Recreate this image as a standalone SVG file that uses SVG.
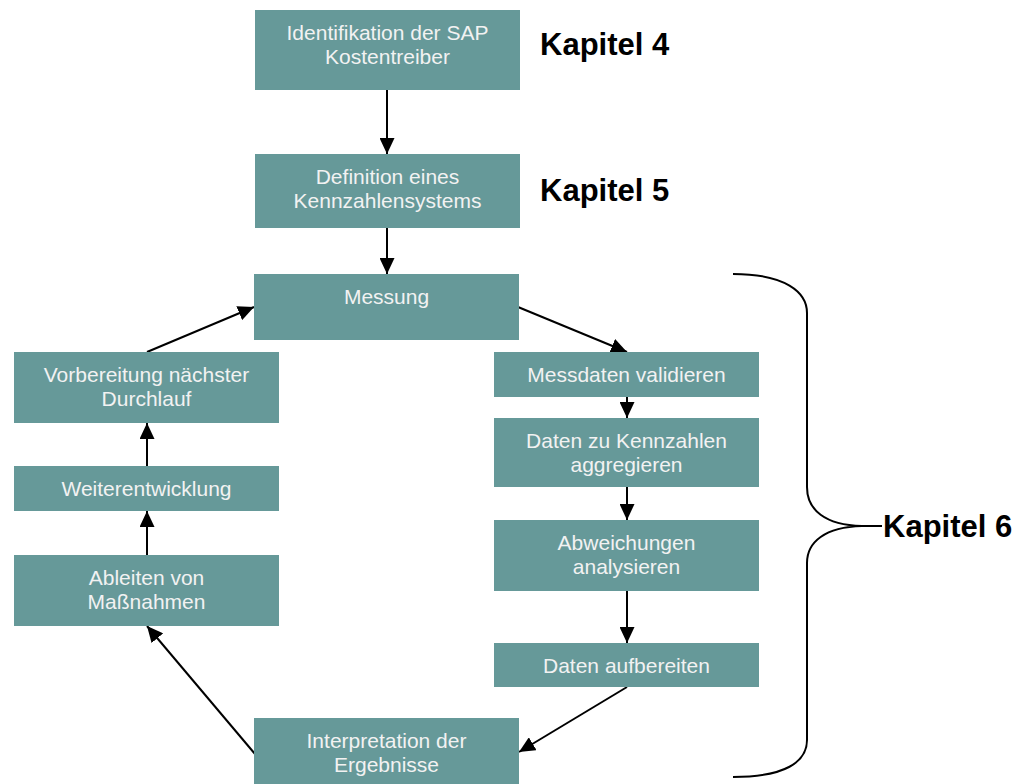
<svg xmlns="http://www.w3.org/2000/svg" width="1023" height="784" viewBox="0 0 1023 784">
<style>
.box{fill:#669999;}
.t{font-family:"Liberation Sans",Arial,sans-serif;font-size:21px;fill:#f2f2f2;text-anchor:middle;}
.k{font-family:"Liberation Sans",Arial,sans-serif;font-size:31px;font-weight:bold;fill:#000;}
.c{stroke:#000;stroke-width:2;fill:none;}
</style>
<defs>
<marker id="ah" markerUnits="userSpaceOnUse" markerWidth="16" markerHeight="15" refX="16" refY="7.5" orient="auto">
<path d="M0,0 L16,7.5 L0,15 z" fill="#000"/>
</marker>
</defs>
<rect width="1023" height="784" fill="#fff"/>
<g id="connectors">
<line class="c" x1="387" y1="90" x2="387" y2="154" marker-end="url(#ah)"/>
<line class="c" x1="387" y1="228" x2="387" y2="274" marker-end="url(#ah)"/>
<line class="c" x1="518" y1="307" x2="627" y2="352" marker-end="url(#ah)"/>
<line class="c" x1="627" y1="397" x2="627" y2="418" marker-end="url(#ah)"/>
<line class="c" x1="627" y1="487" x2="627" y2="520" marker-end="url(#ah)"/>
<line class="c" x1="627" y1="591" x2="627" y2="643" marker-end="url(#ah)"/>
<line class="c" x1="627" y1="687" x2="519" y2="752" marker-end="url(#ah)"/>
<line class="c" x1="255" y1="754" x2="147" y2="626" marker-end="url(#ah)"/>
<line class="c" x1="147" y1="555" x2="147" y2="511" marker-end="url(#ah)"/>
<line class="c" x1="147" y1="466" x2="147" y2="423" marker-end="url(#ah)"/>
<line class="c" x1="147" y1="352" x2="254" y2="307" marker-end="url(#ah)"/>
</g>
<g id="n1"><rect class="box" x="255" y="10" width="265" height="80"/><text class="t" x="387.5" y="39.5">Identifikation der SAP</text><text class="t" x="387.5" y="63.5">Kostentreiber</text></g>
<g id="n2"><rect class="box" x="255" y="154" width="265" height="74"/><text class="t" x="387.5" y="183.5">Definition eines</text><text class="t" x="387.5" y="207.5">Kennzahlensystems</text></g>
<g id="n3"><rect class="box" x="254" y="274" width="265" height="66"/><text class="t" x="386.5" y="304">Messung</text></g>
<g id="n4"><rect class="box" x="494" y="352" width="265" height="45"/><text class="t" x="626.5" y="381.5">Messdaten validieren</text></g>
<g id="n5"><rect class="box" x="494" y="418" width="265" height="69"/><text class="t" x="626.5" y="447.5">Daten zu Kennzahlen</text><text class="t" x="626.5" y="471.5">aggregieren</text></g>
<g id="n6"><rect class="box" x="494" y="520" width="265" height="71"/><text class="t" x="626.5" y="549.5">Abweichungen</text><text class="t" x="626.5" y="573.5">analysieren</text></g>
<g id="n7"><rect class="box" x="494" y="643" width="265" height="44"/><text class="t" x="626.5" y="672.5">Daten aufbereiten</text></g>
<g id="n8"><rect class="box" x="254" y="718" width="265" height="66"/><text class="t" x="386.5" y="748">Interpretation der</text><text class="t" x="386.5" y="772">Ergebnisse</text></g>
<g id="n9"><rect class="box" x="14" y="555" width="265" height="71"/><text class="t" x="146.5" y="585">Ableiten von</text><text class="t" x="146.5" y="609">Maßnahmen</text></g>
<g id="n10"><rect class="box" x="14" y="466" width="265" height="45"/><text class="t" x="146.5" y="496">Weiterentwicklung</text></g>
<g id="n11"><rect class="box" x="14" y="352" width="265" height="71"/><text class="t" x="146.5" y="381.5">Vorbereitung nächster</text><text class="t" x="146.5" y="405.5">Durchlauf</text></g>
<g id="labels">
<text class="k" x="540" y="55">Kapitel 4</text>
<text class="k" x="540" y="201">Kapitel 5</text>
<path class="c" d="M733,274 C785,274 807,292 807,313 L807,487 C807,510 825,525 862,526 L882,526 M862,526 C825,527 807,542 807,563 L807,740 C807,762 785,777 733,777"/>
<text class="k" x="883" y="537">Kapitel 6</text>
</g>
</svg>
